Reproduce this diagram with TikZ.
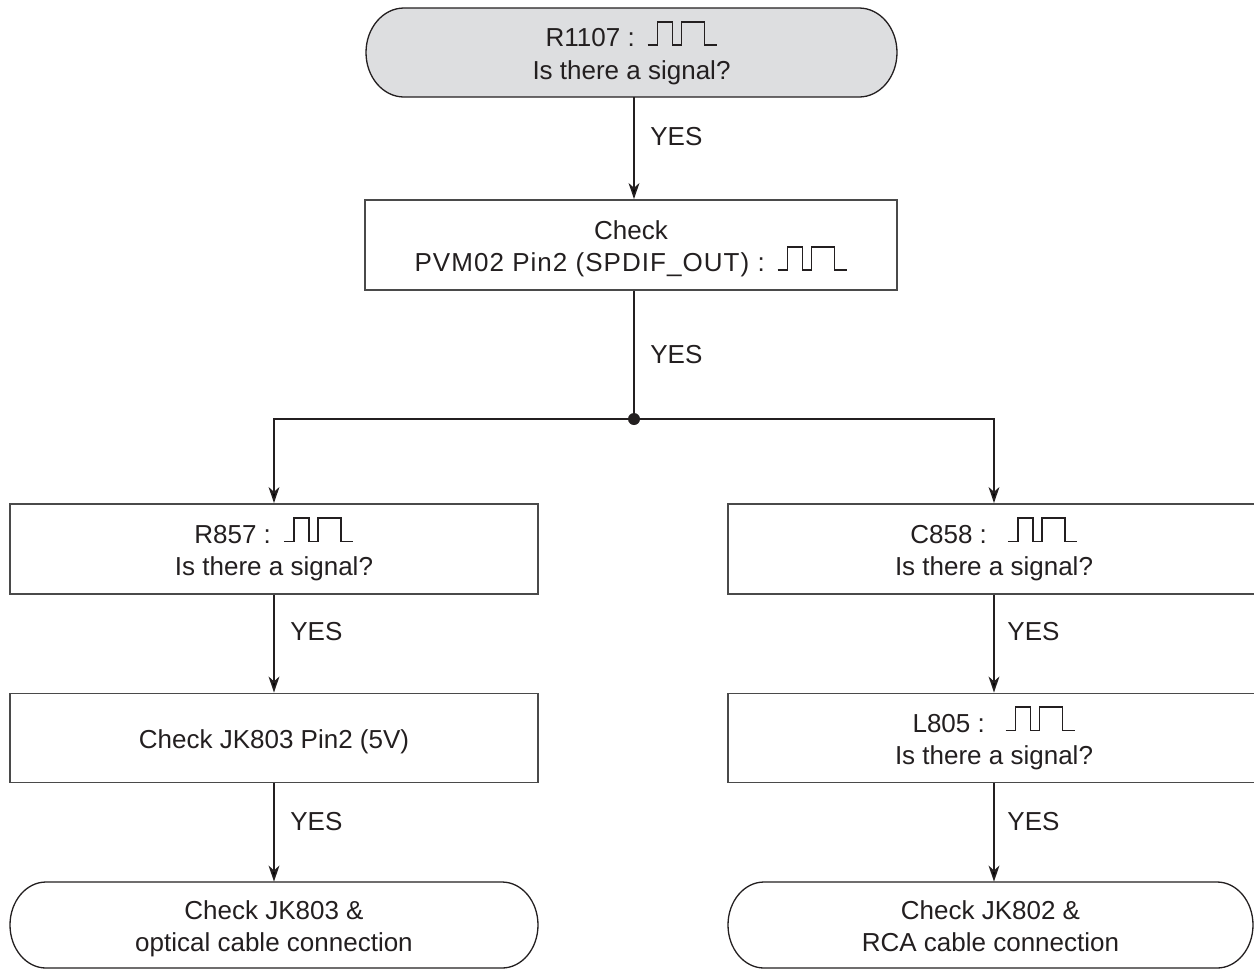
\documentclass[tikz,border=0pt]{standalone}
\usepackage{fontspec}
\setmainfont{Liberation Sans}
\usetikzlibrary{arrows.meta,calc}
\definecolor{ink}{HTML}{231F20}
\definecolor{boxline}{HTML}{4A4A4A}
\definecolor{termgray}{HTML}{DDDEE0}
\newcommand\sqwave{\tikz[baseline=-0.8pt,x=0.5pt,y=0.5pt]\draw[line width=0.8pt,ink,line join=miter] (0,0)--(10,0)--(10,23.4)--(25,23.4)--(25,0)--(34,0)--(34,23.4)--(57,23.4)--(57,0)--(69,0);}
\newcommand\firstst{\rule{0pt}{13.2pt}}
\newcommand\lastst{\rule[-2.7pt]{0pt}{2.7pt}}
\begin{document}
\begin{tikzpicture}[x=0.5pt,y=-0.5pt,
  txt/.style={align=center,text=ink,font=\fontsize{13}{16.3}\selectfont,inner sep=0pt},
  box/.style={txt,draw=boxline,line width=0.95pt,rectangle},
  termline/.style={draw=ink,line width=0.65pt},
  lbl/.style={text=ink,font=\fontsize{13}{16}\selectfont,inner sep=0pt,anchor=west},
  conn/.style={draw=ink,line width=0.85pt},
  arr/.style={conn,-{Stealth[length=8pt,width=5.4pt,inset=2.4pt]}}]
\useasboundingbox (0,0) rectangle (1254,971);
\fill[white] (0,0) rectangle (1254,971);
% terminator outlines
\path[termline,fill=termgray] (404,8) -- (859,8) arc[start angle=-90,end angle=90,x radius=38,y radius=44.5] -- (404,97) arc[start angle=90,end angle=270,x radius=38,y radius=44.5] -- cycle;
\path[termline] (46,882) -- (502,882) arc[start angle=-90,end angle=90,x radius=36,y radius=43] -- (46,968) arc[start angle=90,end angle=270,x radius=36,y radius=43] -- cycle;
\path[termline] (764,882) -- (1217,882) arc[start angle=-90,end angle=90,x radius=36,y radius=43] -- (764,968) arc[start angle=90,end angle=270,x radius=36,y radius=43] -- cycle;
% nodes
\node[txt,minimum width=265.5pt,minimum height=44.5pt] (t0) at (631.5,52.5) {\firstst R1107 :\hspace{6pt}\sqwave\\Is there a signal?\lastst};
\node[box,minimum width=266pt,minimum height=45pt] (b1) at (631,245) {\firstst Check\\{\addfontfeature{LetterSpace=4}PVM02 Pin2 (SPDIF\_OUT) :}\hspace{6pt}\sqwave\lastst};
\node[box,minimum width=264pt,minimum height=45pt] (l1) at (274,549) {\firstst R857 :\hspace{6pt}\sqwave\\Is there a signal?\lastst};
\node[box,minimum width=264pt,minimum height=44.5pt] (l2) at (274,738) {\firstst Check JK803 Pin2 (5V)\lastst};
\node[txt,minimum width=264pt,minimum height=43pt] (l3) at (274,925) {\firstst Check JK803 \&\\optical cable connection\lastst};
\node[box,minimum width=266pt,minimum height=45pt] (r1) at (994,549) {\firstst C858 :\hspace{10pt}\sqwave\\Is there a signal?\lastst};
\node[box,minimum width=266pt,minimum height=44.5pt] (r2) at (994,738) {\firstst L805 :\hspace{10pt}\sqwave\\Is there a signal?\lastst};
\node[txt,minimum width=262.5pt,minimum height=43pt] (r3) at (990.5,925) {\firstst Check JK802 \&\\RCA cable connection\lastst};
% junction
\coordinate (J) at (634,419);
% connectors
\draw[arr] (t0.south -| J) -- (b1.north -| J);
\draw[conn] (b1.south -| J) -- (J);
\draw[arr] (J) -| (l1.north);
\draw[arr] (J) -| (r1.north);
\draw[arr] (l1.south) -- (l2.north);
\draw[arr] (l2.south) -- (l3.north);
\draw[arr] (r1.south) -- (r2.north);
\draw[arr] (r2.south) -- (r2.south |- r3.north);
\fill[ink] (J) circle[radius=6];
% labels
\node[lbl] (y1) at (650,137) {YES};
\node[lbl] (y2) at (650,355) {YES};
\node[lbl] (y3) at (290,632) {YES};
\node[lbl] (y4) at (290,822) {YES};
\node[lbl] (y5) at (1007,632) {YES};
\node[lbl] (y6) at (1007,822) {YES};
\end{tikzpicture}
\end{document}
